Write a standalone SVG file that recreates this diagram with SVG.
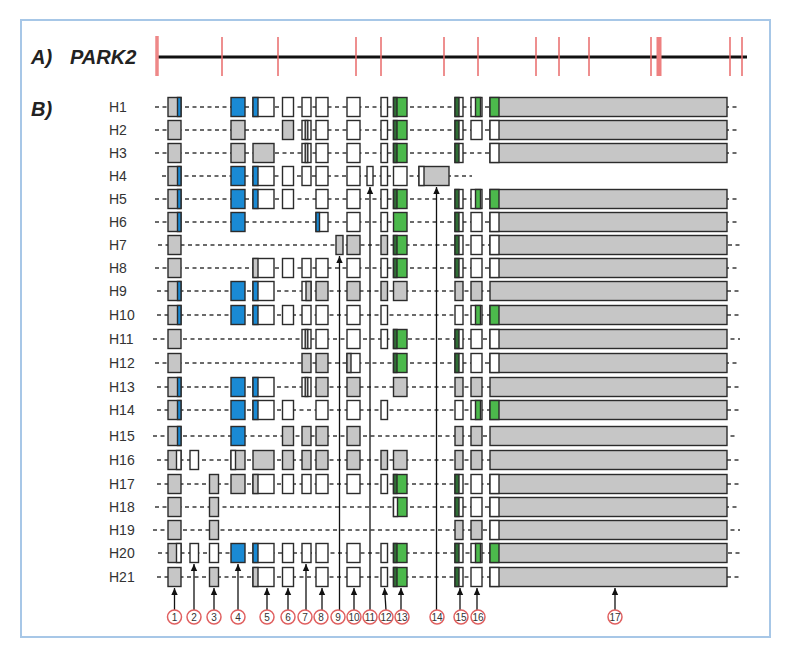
<svg xmlns="http://www.w3.org/2000/svg" xmlns:xlink="http://www.w3.org/1999/xlink" width="791" height="655" viewBox="0 0 791 655">
<style>
.bx{stroke:#2b2b2b;stroke-width:1.4}
.g{fill:#c6c6c6}.w{fill:#ffffff}.b{fill:#1a8ad4}.gr{fill:#4cb94c}.dg{fill:#2f6e35}
.dash{stroke:#3a3a3a;stroke-width:1.5;stroke-dasharray:4 3.5;fill:none}
.lbl{font-family:"Liberation Sans",Arial,sans-serif;font-size:14px;fill:#333}
.hd{font-family:"Liberation Sans",Arial,sans-serif;font-size:20px;font-weight:bold;font-style:italic;fill:#222}
.tick{stroke:#e86a6a;stroke-width:1.5}
.arr{stroke:#111;stroke-width:1.3;fill:none;marker-end:url(#ah)}
.num circle{fill:#fff;stroke:#e06060;stroke-width:1.5}
.num text{font-family:"Liberation Sans",Arial,sans-serif;font-size:10px;fill:#333;text-anchor:middle}
</style>
<defs>
<marker id="ah" markerUnits="userSpaceOnUse" markerWidth="8" markerHeight="8" refX="7" refY="4" orient="auto">
<path d="M0,0.8 L7,4 L0,7.2 z" fill="#111"/>
</marker>
<g id="c1g"><rect class="bx g" x="168" y="-9.5" width="13" height="19"/></g>
<g id="c1gb"><rect class="bx g" x="168" y="-9.5" width="13" height="19"/><rect class="bx b" x="177.5" y="-9.5" width="3.5" height="19"/></g>
<g id="c1gw"><rect class="bx g" x="168" y="-9.5" width="13" height="19"/><rect class="bx w" x="176.5" y="-9.5" width="4.5" height="19"/></g>
<g id="c2w"><rect class="bx w" x="190" y="-9.5" width="8.5" height="19"/></g>
<g id="c3g"><rect class="bx g" x="209.5" y="-9.5" width="9" height="19"/></g>
<g id="c3w"><rect class="bx w" x="209.5" y="-9.5" width="9" height="19"/></g>
<g id="c4b"><rect class="bx b" x="231" y="-9.5" width="14" height="19"/></g>
<g id="c4g"><rect class="bx g" x="231" y="-9.5" width="14" height="19"/></g>
<g id="c4wg"><rect class="bx g" x="231" y="-9.5" width="14" height="19"/><rect class="bx w" x="231" y="-9.5" width="4.5" height="19"/></g>
<g id="c5bw"><rect class="bx w" x="253" y="-9.5" width="21" height="19"/><rect class="bx b" x="253" y="-9.5" width="5" height="19"/></g>
<g id="c5g"><rect class="bx g" x="253" y="-9.5" width="21" height="19"/></g>
<g id="c5gw"><rect class="bx w" x="253" y="-9.5" width="21" height="19"/><rect class="bx g" x="253" y="-9.5" width="5" height="19"/></g>
<g id="c6w"><rect class="bx w" x="282.5" y="-9.5" width="11" height="19"/></g>
<g id="c6g"><rect class="bx g" x="282.5" y="-9.5" width="11" height="19"/></g>
<g id="c7w"><rect class="bx w" x="302" y="-9.5" width="9" height="19"/></g>
<g id="c7g"><rect class="bx g" x="302" y="-9.5" width="9" height="19"/></g>
<g id="c7d"><rect class="bx w" x="302" y="-9.5" width="9" height="19"/><rect class="bx g" x="305.2" y="-9.5" width="2.6" height="19"/></g>
<g id="c7wg"><rect class="bx w" x="302" y="-9.5" width="9" height="19"/><rect class="bx g" x="306" y="-9.5" width="5" height="19"/></g>
<g id="c8w"><rect class="bx w" x="316" y="-9.5" width="12" height="19"/></g>
<g id="c8g"><rect class="bx g" x="316" y="-9.5" width="12" height="19"/></g>
<g id="c8bw"><rect class="bx w" x="316" y="-9.5" width="12" height="19"/><rect class="bx b" x="316" y="-9.5" width="3.5" height="19"/></g>
<g id="c9g"><rect class="bx g" x="336" y="-9.5" width="7" height="19"/></g>
<g id="c10w"><rect class="bx w" x="347" y="-9.5" width="13" height="19"/></g>
<g id="c10g"><rect class="bx g" x="347" y="-9.5" width="13" height="19"/></g>
<g id="c10gw"><rect class="bx w" x="347" y="-9.5" width="13" height="19"/><rect class="bx g" x="347" y="-9.5" width="4" height="19"/></g>
<g id="c11w"><rect class="bx w" x="367" y="-9.5" width="6" height="19"/></g>
<g id="c12w"><rect class="bx w" x="381" y="-9.5" width="6.5" height="19"/></g>
<g id="c12g"><rect class="bx g" x="381" y="-9.5" width="6.5" height="19"/></g>
<g id="c13gr"><rect class="bx gr" x="393.5" y="-9.5" width="13.5" height="19"/><rect class="bx dg" x="393.5" y="-9.5" width="3.5" height="19"/></g>
<g id="c13grf"><rect class="bx gr" x="393.5" y="-9.5" width="13.5" height="19"/></g>
<g id="c13g"><rect class="bx g" x="393.5" y="-9.5" width="13.5" height="19"/></g>
<g id="c13w"><rect class="bx w" x="393.5" y="-9.5" width="13.5" height="19"/></g>
<g id="c13wgr"><rect class="bx gr" x="393.5" y="-9.5" width="13.5" height="19"/><rect class="bx w" x="393.5" y="-9.5" width="4" height="19"/></g>
<g id="c14wg"><rect class="bx g" x="419" y="-9.5" width="30" height="19"/><rect class="bx w" x="419" y="-9.5" width="5" height="19"/></g>
<g id="c15dw"><rect class="bx w" x="455" y="-9.5" width="8" height="19"/><rect class="bx dg" x="455" y="-9.5" width="4" height="19"/></g>
<g id="c15g"><rect class="bx g" x="455" y="-9.5" width="8" height="19"/></g>
<g id="c15w"><rect class="bx w" x="455" y="-9.5" width="8" height="19"/></g>
<g id="c16w"><rect class="bx w" x="471" y="-9.5" width="11" height="19"/></g>
<g id="c16g"><rect class="bx g" x="471" y="-9.5" width="11" height="19"/></g>
<g id="c16wg"><rect class="bx w" x="471" y="-9.5" width="11" height="19"/><rect class="bx gr" x="475.5" y="-9.5" width="5" height="19"/></g>
<g id="c17gg"><rect class="bx g" x="490" y="-9.5" width="237" height="19"/><rect class="bx gr" x="490" y="-9.5" width="9" height="19"/></g>
<g id="c17wg"><rect class="bx g" x="490" y="-9.5" width="237" height="19"/><rect class="bx w" x="490" y="-9.5" width="9" height="19"/></g>
<g id="c17g"><rect class="bx g" x="490" y="-9.5" width="237" height="19"/></g>
</defs>
<rect x="0" y="0" width="791" height="655" fill="#fff"/>
<rect x="21" y="20" width="749" height="617" fill="#fff" stroke="#a7c7e7" stroke-width="2"/>

<g id="partA">
<text class="hd" x="31" y="64">A)</text>
<text class="hd" x="70" y="64">PARK2</text>
<line x1="157" y1="57" x2="747" y2="57" stroke="#111" stroke-width="3"/>
<line x1="157" y1="36" x2="157" y2="76" stroke="#ee8888" stroke-width="3.5"/>
<line class="tick" x1="222" y1="37" x2="222" y2="76"/>
<line class="tick" x1="278" y1="37" x2="278" y2="76"/>
<line class="tick" x1="356" y1="37" x2="356" y2="76"/>
<line class="tick" x1="381" y1="37" x2="381" y2="76"/>
<line class="tick" x1="444" y1="37" x2="444" y2="76"/>
<line class="tick" x1="478" y1="37" x2="478" y2="76"/>
<line class="tick" x1="536" y1="37" x2="536" y2="76"/>
<line class="tick" x1="559" y1="37" x2="559" y2="76"/>
<line class="tick" x1="589" y1="37" x2="589" y2="76"/>
<line class="tick" x1="651" y1="37" x2="651" y2="76"/>
<rect x="656.5" y="37" width="5" height="39" fill="#ee8080"/>
<line class="tick" x1="730" y1="37" x2="730" y2="76"/>
<line class="tick" x1="742" y1="37" x2="742" y2="76"/>
</g>

<text class="hd" x="31" y="116">B)</text>

<g id="H1"><line class="dash" x1="155" y1="107" x2="740" y2="107"/><text class="lbl" x="109" y="112">H1</text>
<use href="#c1gb" y="107"/><use href="#c4b" y="107"/><use href="#c5bw" y="107"/><use href="#c6w" y="107"/><use href="#c7w" y="107"/><use href="#c8w" y="107"/><use href="#c10w" y="107"/><use href="#c12w" y="107"/><use href="#c13gr" y="107"/><use href="#c15dw" y="107"/><use href="#c16wg" y="107"/><use href="#c17gg" y="107"/></g>
<g id="H2"><line class="dash" x1="155" y1="130" x2="740" y2="130"/><text class="lbl" x="109" y="135">H2</text>
<use href="#c1g" y="130"/><use href="#c4g" y="130"/><use href="#c6g" y="130"/><use href="#c7d" y="130"/><use href="#c8w" y="130"/><use href="#c10w" y="130"/><use href="#c12w" y="130"/><use href="#c13gr" y="130"/><use href="#c15dw" y="130"/><use href="#c16w" y="130"/><use href="#c17wg" y="130"/></g>
<g id="H3"><line class="dash" x1="155" y1="153" x2="740" y2="153"/><text class="lbl" x="109" y="158">H3</text>
<use href="#c1g" y="153"/><use href="#c4g" y="153"/><use href="#c5g" y="153"/><use href="#c7d" y="153"/><use href="#c8w" y="153"/><use href="#c10w" y="153"/><use href="#c12w" y="153"/><use href="#c13gr" y="153"/><use href="#c15dw" y="153"/><use href="#c17wg" y="153"/></g>
<g id="H4"><line class="dash" x1="162" y1="176" x2="472" y2="176"/><text class="lbl" x="109" y="181">H4</text>
<use href="#c1gb" y="176"/><use href="#c4b" y="176"/><use href="#c5bw" y="176"/><use href="#c6w" y="176"/><use href="#c7w" y="176"/><use href="#c8w" y="176"/><use href="#c10w" y="176"/><use href="#c11w" y="176"/><use href="#c12w" y="176"/><use href="#c13w" y="176"/><use href="#c14wg" y="176"/></g>
<g id="H5"><line class="dash" x1="155" y1="199" x2="740" y2="199"/><text class="lbl" x="109" y="204">H5</text>
<use href="#c1gb" y="199"/><use href="#c4b" y="199"/><use href="#c5bw" y="199"/><use href="#c6w" y="199"/><use href="#c8w" y="199"/><use href="#c10w" y="199"/><use href="#c12w" y="199"/><use href="#c13gr" y="199"/><use href="#c15dw" y="199"/><use href="#c16wg" y="199"/><use href="#c17gg" y="199"/></g>
<g id="H6"><line class="dash" x1="155" y1="222" x2="740" y2="222"/><text class="lbl" x="109" y="227">H6</text>
<use href="#c1gb" y="222"/><use href="#c4b" y="222"/><use href="#c8bw" y="222"/><use href="#c10w" y="222"/><use href="#c12w" y="222"/><use href="#c13grf" y="222"/><use href="#c15dw" y="222"/><use href="#c16w" y="222"/><use href="#c17wg" y="222"/></g>
<g id="H7"><line class="dash" x1="158" y1="245" x2="740" y2="245"/><text class="lbl" x="109" y="250">H7</text>
<use href="#c1g" y="245"/><use href="#c9g" y="245"/><use href="#c10g" y="245"/><use href="#c12g" y="245"/><use href="#c13gr" y="245"/><use href="#c15dw" y="245"/><use href="#c16w" y="245"/><use href="#c17wg" y="245"/></g>
<g id="H8"><line class="dash" x1="155" y1="268" x2="740" y2="268"/><text class="lbl" x="109" y="273">H8</text>
<use href="#c1g" y="268"/><use href="#c5gw" y="268"/><use href="#c6w" y="268"/><use href="#c7w" y="268"/><use href="#c8w" y="268"/><use href="#c10w" y="268"/><use href="#c12w" y="268"/><use href="#c13gr" y="268"/><use href="#c15dw" y="268"/><use href="#c16w" y="268"/><use href="#c17wg" y="268"/></g>
<g id="H9"><line class="dash" x1="157" y1="291" x2="740" y2="291"/><text class="lbl" x="109" y="296">H9</text>
<use href="#c1gb" y="291"/><use href="#c4b" y="291"/><use href="#c5bw" y="291"/><use href="#c7wg" y="291"/><use href="#c8g" y="291"/><use href="#c10g" y="291"/><use href="#c12g" y="291"/><use href="#c13g" y="291"/><use href="#c15g" y="291"/><use href="#c16g" y="291"/><use href="#c17g" y="291"/></g>
<g id="H10"><line class="dash" x1="157" y1="315" x2="740" y2="315"/><text class="lbl" x="109" y="320">H10</text>
<use href="#c1gb" y="315"/><use href="#c4b" y="315"/><use href="#c5bw" y="315"/><use href="#c6w" y="315"/><use href="#c7w" y="315"/><use href="#c8w" y="315"/><use href="#c10w" y="315"/><use href="#c12w" y="315"/><use href="#c15w" y="315"/><use href="#c16wg" y="315"/><use href="#c17gg" y="315"/></g>
<g id="H11"><line class="dash" x1="153" y1="339" x2="740" y2="339"/><text class="lbl" x="109" y="344">H11</text>
<use href="#c1g" y="339"/><use href="#c7d" y="339"/><use href="#c8w" y="339"/><use href="#c10w" y="339"/><use href="#c12w" y="339"/><use href="#c13gr" y="339"/><use href="#c15dw" y="339"/><use href="#c16w" y="339"/><use href="#c17wg" y="339"/></g>
<g id="H12"><line class="dash" x1="155" y1="363" x2="740" y2="363"/><text class="lbl" x="109" y="368">H12</text>
<use href="#c1g" y="363"/><use href="#c7g" y="363"/><use href="#c8g" y="363"/><use href="#c10gw" y="363"/><use href="#c13gr" y="363"/><use href="#c15dw" y="363"/><use href="#c16w" y="363"/><use href="#c17wg" y="363"/></g>
<g id="H13"><line class="dash" x1="157" y1="387" x2="740" y2="387"/><text class="lbl" x="109" y="392">H13</text>
<use href="#c1gb" y="387"/><use href="#c4b" y="387"/><use href="#c5bw" y="387"/><use href="#c7d" y="387"/><use href="#c8g" y="387"/><use href="#c10g" y="387"/><use href="#c13g" y="387"/><use href="#c15g" y="387"/><use href="#c16g" y="387"/><use href="#c17g" y="387"/></g>
<g id="H14"><line class="dash" x1="157" y1="410" x2="740" y2="410"/><text class="lbl" x="109" y="415">H14</text>
<use href="#c1gb" y="410"/><use href="#c4b" y="410"/><use href="#c5bw" y="410"/><use href="#c6w" y="410"/><use href="#c8w" y="410"/><use href="#c10w" y="410"/><use href="#c12w" y="410"/><use href="#c15w" y="410"/><use href="#c16wg" y="410"/><use href="#c17gg" y="410"/></g>
<g id="H15"><line class="dash" x1="153" y1="436" x2="738" y2="436"/><text class="lbl" x="109" y="441">H15</text>
<use href="#c1gb" y="436"/><use href="#c4b" y="436"/><use href="#c6g" y="436"/><use href="#c7g" y="436"/><use href="#c8g" y="436"/><use href="#c10g" y="436"/><use href="#c15g" y="436"/><use href="#c16g" y="436"/><use href="#c17g" y="436"/></g>
<g id="H16"><line class="dash" x1="157" y1="460" x2="740" y2="460"/><text class="lbl" x="109" y="465">H16</text>
<use href="#c1gw" y="460"/><use href="#c2w" y="460"/><use href="#c4wg" y="460"/><use href="#c5g" y="460"/><use href="#c6g" y="460"/><use href="#c7g" y="460"/><use href="#c8g" y="460"/><use href="#c10g" y="460"/><use href="#c12g" y="460"/><use href="#c13g" y="460"/><use href="#c15g" y="460"/><use href="#c16g" y="460"/><use href="#c17g" y="460"/></g>
<g id="H17"><line class="dash" x1="157" y1="484" x2="740" y2="484"/><text class="lbl" x="109" y="489">H17</text>
<use href="#c1g" y="484"/><use href="#c3g" y="484"/><use href="#c4g" y="484"/><use href="#c5gw" y="484"/><use href="#c6w" y="484"/><use href="#c7w" y="484"/><use href="#c8w" y="484"/><use href="#c10w" y="484"/><use href="#c12w" y="484"/><use href="#c13gr" y="484"/><use href="#c15dw" y="484"/><use href="#c16w" y="484"/><use href="#c17wg" y="484"/></g>
<g id="H18"><line class="dash" x1="155" y1="507" x2="740" y2="507"/><text class="lbl" x="109" y="512">H18</text>
<use href="#c1g" y="507"/><use href="#c3g" y="507"/><use href="#c13wgr" y="507"/><use href="#c15dw" y="507"/><use href="#c16w" y="507"/><use href="#c17wg" y="507"/></g>
<g id="H19"><line class="dash" x1="153" y1="530" x2="740" y2="530"/><text class="lbl" x="109" y="535">H19</text>
<use href="#c1g" y="530"/><use href="#c3g" y="530"/><use href="#c15g" y="530"/><use href="#c16g" y="530"/><use href="#c17wg" y="530"/></g>
<g id="H20"><line class="dash" x1="158" y1="553" x2="740" y2="553"/><text class="lbl" x="109" y="558">H20</text>
<use href="#c1gw" y="553"/><use href="#c2w" y="553"/><use href="#c3w" y="553"/><use href="#c4b" y="553"/><use href="#c5bw" y="553"/><use href="#c6w" y="553"/><use href="#c7w" y="553"/><use href="#c8w" y="553"/><use href="#c10w" y="553"/><use href="#c12w" y="553"/><use href="#c13gr" y="553"/><use href="#c15dw" y="553"/><use href="#c16wg" y="553"/><use href="#c17gg" y="553"/></g>
<g id="H21"><line class="dash" x1="157" y1="577" x2="740" y2="577"/><text class="lbl" x="109" y="582">H21</text>
<use href="#c1g" y="577"/><use href="#c3g" y="577"/><use href="#c5gw" y="577"/><use href="#c6w" y="577"/><use href="#c8w" y="577"/><use href="#c10w" y="577"/><use href="#c12w" y="577"/><use href="#c13gr" y="577"/><use href="#c15dw" y="577"/><use href="#c16w" y="577"/><use href="#c17wg" y="577"/></g>

<g id="connectors">
<path class="arr" d="M174.5,610 V588"/>
<path class="arr" d="M194,610 V564"/>
<path class="arr" d="M214,610 V588"/>
<path class="arr" d="M238,610 V564"/>
<path class="arr" d="M267,610 V588"/>
<path class="arr" d="M288,610 V588"/>
<path class="arr" d="M306,610 V564"/>
<path class="arr" d="M322,610 V588"/>
<path class="arr" d="M339.5,610 V256"/>
<path class="arr" d="M354,610 V588"/>
<path class="arr" d="M370,610 V187"/>
<path class="arr" d="M386,610 L384.5,588"/>
<path class="arr" d="M401,610 V588"/>
<path class="arr" d="M436.5,610 V187"/>
<path class="arr" d="M460,610 V588"/>
<path class="arr" d="M477,610 V588"/>
<path class="arr" d="M615,610 V588"/>
</g>

<g id="numbers" class="num">
<g id="n1"><circle cx="174.5" cy="617" r="7"/><text x="174.5" y="620.5">1</text></g>
<g id="n2"><circle cx="194" cy="617" r="7"/><text x="194" y="620.5">2</text></g>
<g id="n3"><circle cx="214" cy="617" r="7"/><text x="214" y="620.5">3</text></g>
<g id="n4"><circle cx="238" cy="617" r="7"/><text x="238" y="620.5">4</text></g>
<g id="n5"><circle cx="267" cy="617" r="7"/><text x="267" y="620.5">5</text></g>
<g id="n6"><circle cx="288" cy="617" r="7"/><text x="288" y="620.5">6</text></g>
<g id="n7"><circle cx="305" cy="617" r="7"/><text x="305" y="620.5">7</text></g>
<g id="n8"><circle cx="321" cy="617" r="7"/><text x="321" y="620.5">8</text></g>
<g id="n9"><circle cx="338" cy="617" r="7"/><text x="338" y="620.5">9</text></g>
<g id="n10"><circle cx="354" cy="617" r="7"/><text x="354" y="620.5">10</text></g>
<g id="n11"><circle cx="370" cy="617" r="7"/><text x="370" y="620.5">11</text></g>
<g id="n12"><circle cx="386" cy="617" r="7"/><text x="386" y="620.5">12</text></g>
<g id="n13"><circle cx="402" cy="617" r="7"/><text x="402" y="620.5">13</text></g>
<g id="n14"><circle cx="437" cy="617" r="7"/><text x="437" y="620.5">14</text></g>
<g id="n15"><circle cx="461" cy="617" r="7"/><text x="461" y="620.5">15</text></g>
<g id="n16"><circle cx="478" cy="617" r="7"/><text x="478" y="620.5">16</text></g>
<g id="n17"><circle cx="615" cy="617" r="7"/><text x="615" y="620.5">17</text></g>
</g>
</svg>
